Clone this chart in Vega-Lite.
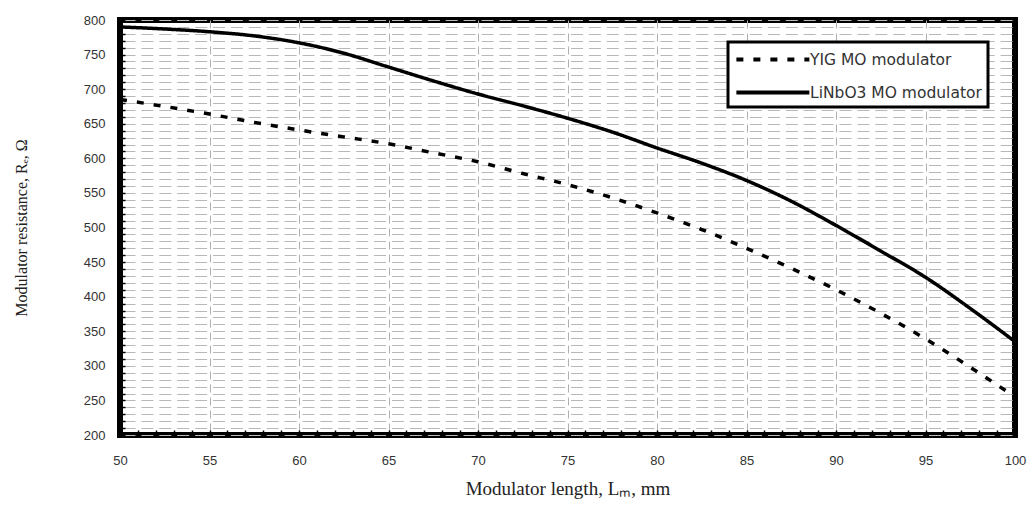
{
  "$schema": "https://vega.github.io/schema/vega-lite/v6.json",
  "width": 895,
  "height": 415,
  "autosize": {"type": "none"},
  "padding": {"left": 120, "top": 20, "right": 18, "bottom": 75},
  "background": "white",
  "config": {
    "view": {"stroke": "black", "strokeWidth": 6},
    "axis": {
      "labelFont": "Liberation Sans",
      "labelFontSize": 13,
      "labelColor": "#333333",
      "titleFont": "Liberation Serif",
      "titleFontWeight": "normal",
      "titleColor": "#222222",
      "domain": false,
      "tickColor": "black",
      "tickWidth": 1.5,
      "labelFlush": false
    }
  },
  "data": {
    "values": [
      {"series": "YIG MO modulator", "length": 50, "resistance": 685},
      {"series": "YIG MO modulator", "length": 52.5, "resistance": 675},
      {"series": "YIG MO modulator", "length": 55, "resistance": 664},
      {"series": "YIG MO modulator", "length": 57.5, "resistance": 652},
      {"series": "YIG MO modulator", "length": 60, "resistance": 641},
      {"series": "YIG MO modulator", "length": 62.5, "resistance": 631},
      {"series": "YIG MO modulator", "length": 65, "resistance": 621},
      {"series": "YIG MO modulator", "length": 67.5, "resistance": 608},
      {"series": "YIG MO modulator", "length": 70, "resistance": 595},
      {"series": "YIG MO modulator", "length": 72.5, "resistance": 578},
      {"series": "YIG MO modulator", "length": 75, "resistance": 562},
      {"series": "YIG MO modulator", "length": 77.5, "resistance": 543},
      {"series": "YIG MO modulator", "length": 80, "resistance": 521},
      {"series": "YIG MO modulator", "length": 82.5, "resistance": 497},
      {"series": "YIG MO modulator", "length": 85, "resistance": 470},
      {"series": "YIG MO modulator", "length": 87.5, "resistance": 441},
      {"series": "YIG MO modulator", "length": 90, "resistance": 410},
      {"series": "YIG MO modulator", "length": 92.5, "resistance": 376},
      {"series": "YIG MO modulator", "length": 95, "resistance": 339},
      {"series": "YIG MO modulator", "length": 97.5, "resistance": 298},
      {"series": "YIG MO modulator", "length": 100, "resistance": 255},
      {"series": "LiNbO3 MO modulator", "length": 50, "resistance": 790},
      {"series": "LiNbO3 MO modulator", "length": 52.5, "resistance": 787},
      {"series": "LiNbO3 MO modulator", "length": 55, "resistance": 783},
      {"series": "LiNbO3 MO modulator", "length": 57.5, "resistance": 777},
      {"series": "LiNbO3 MO modulator", "length": 60, "resistance": 767},
      {"series": "LiNbO3 MO modulator", "length": 62.5, "resistance": 752},
      {"series": "LiNbO3 MO modulator", "length": 65, "resistance": 732},
      {"series": "LiNbO3 MO modulator", "length": 67.5, "resistance": 712},
      {"series": "LiNbO3 MO modulator", "length": 70, "resistance": 693},
      {"series": "LiNbO3 MO modulator", "length": 72.5, "resistance": 676},
      {"series": "LiNbO3 MO modulator", "length": 75, "resistance": 658},
      {"series": "LiNbO3 MO modulator", "length": 77.5, "resistance": 638},
      {"series": "LiNbO3 MO modulator", "length": 80, "resistance": 615},
      {"series": "LiNbO3 MO modulator", "length": 82.5, "resistance": 593},
      {"series": "LiNbO3 MO modulator", "length": 85, "resistance": 568},
      {"series": "LiNbO3 MO modulator", "length": 87.5, "resistance": 538},
      {"series": "LiNbO3 MO modulator", "length": 90, "resistance": 503},
      {"series": "LiNbO3 MO modulator", "length": 92.5, "resistance": 466},
      {"series": "LiNbO3 MO modulator", "length": 95, "resistance": 428},
      {"series": "LiNbO3 MO modulator", "length": 97.5, "resistance": 383},
      {"series": "LiNbO3 MO modulator", "length": 100, "resistance": 335}
    ]
  },
  "mark": {"type": "line", "interpolate": "monotone", "strokeWidth": 3.5, "strokeCap": "butt", "clip": true},
  "encoding": {
    "x": {
      "field": "length",
      "type": "quantitative",
      "scale": {"domain": [50, 100], "nice": false, "zero": false},
      "axis": {
        "title": "Modulator length, Lₘ, mm",
        "titleFontSize": 19,
        "values": [50,51,52,53,54,55,56,57,58,59,60,61,62,63,64,65,66,67,68,69,70,71,72,73,74,75,76,77,78,79,80,81,82,83,84,85,86,87,88,89,90,91,92,93,94,95,96,97,98,99,100],
        "labelExpr": "datum.value % 5 === 0 ? datum.label : ''",
        "tickSize": -5,
        "labelPadding": 24,
        "titlePadding": 12,
        "grid": true,
        "gridColor": "#b0b0b0",
        "gridWidth": 1,
        "gridDash": [8, 5],
        "gridOpacity": {"condition": {"test": "datum.value % 5 === 0 && datum.value > 50 && datum.value < 100", "value": 1}, "value": 0}
      }
    },
    "y": {
      "field": "resistance",
      "type": "quantitative",
      "scale": {"domain": [200, 800], "nice": false, "zero": false},
      "axis": {
        "title": "Modulator resistance, Rₑ, Ω",
        "titleFontSize": 16,
        "values": [200,210,220,230,240,250,260,270,280,290,300,310,320,330,340,350,360,370,380,390,400,410,420,430,440,450,460,470,480,490,500,510,520,530,540,550,560,570,580,590,600,610,620,630,640,650,660,670,680,690,700,710,720,730,740,750,760,770,780,790,800],
        "labelExpr": "datum.value % 50 === 0 ? datum.label : ''",
        "tickSize": -5,
        "labelPadding": 20,
        "titlePadding": 54,
        "grid": true,
        "gridColor": "#b8b8b8",
        "gridWidth": 1,
        "gridDash": [12, 5.9],
        "gridDashOffset": 14.9
      }
    },
    "color": {"value": "black"},
    "strokeDash": {
      "field": "series",
      "type": "nominal",
      "scale": {"domain": ["YIG MO modulator", "LiNbO3 MO modulator"], "range": [[7, 10], [1, 0]]},
      "legend": {
        "title": null,
        "orient": "none",
        "legendX": 608,
        "legendY": 22,
        "fillColor": "white",
        "strokeColor": "black",
        "padding": 6,
        "rowPadding": 13,
        "symbolType": "M-1,0H7",
        "symbolSize": 333,
        "symbolStrokeWidth": 4,
        "symbolStrokeColor": "black",
        "symbolFillColor": "transparent",
        "symbolOffset": 0,
        "labelOffset": 53,
        "labelFont": "DejaVu Sans",
        "labelFontSize": 15.5,
        "labelColor": "#333333",
        "labelLimit": 300,
        "encode": {"legend": {"update": {"strokeWidth": {"value": 3}}}}
      }
    }
  }
}
